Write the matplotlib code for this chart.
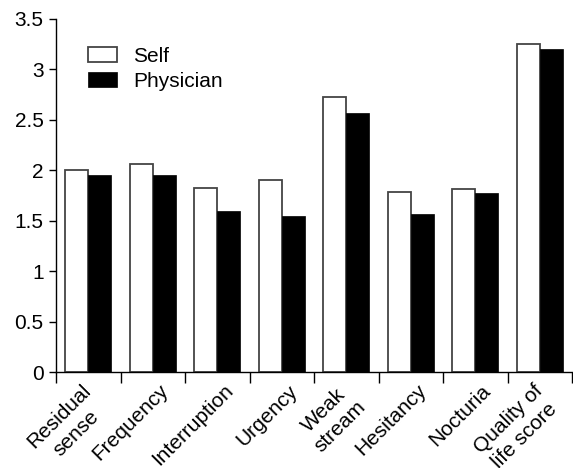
import matplotlib
matplotlib.use("Agg")
import matplotlib.pyplot as plt
import numpy as np

categories = ["Residual\nsense", "Frequency", "Interruption", "Urgency", "Weak\nstream",
              "Hesitancy", "Nocturia", "Quality of\nlife score"]
self_vals = [2.00, 2.06, 1.82, 1.90, 2.73, 1.78, 1.81, 3.25]
phys_vals = [1.95, 1.95, 1.60, 1.55, 2.57, 1.57, 1.77, 3.20]
yticks = [0, 0.5, 1, 1.5, 2, 2.5, 3, 3.5]
ytick_labels = ["0", "0.5", "1", "1.5", "2", "2.5", "3", "3.5"]

plt.rcParams['font.family'] = ['Liberation Sans', 'DejaVu Sans']
fig = plt.figure(figsize=(5.73, 4.68), dpi=100)
ax = fig.add_axes([56/573, 1-372/468, 516/573, (372-19)/468])

x = np.arange(len(categories))
w = 0.355
ax.bar(x - w/2, self_vals, w, color="white", edgecolor="#444444", linewidth=1.3, label="Self")
ax.bar(x + w/2, phys_vals, w, color="black", edgecolor="black", linewidth=0.5, label="Physician")

ax.set_xlim(-0.5, len(categories) - 0.5)
ax.set_ylim(0, 3.5)
ax.set_yticks(yticks)
ax.set_yticklabels(ytick_labels, fontsize=15)
ax.set_xticks([])
ax.set_xticks(np.arange(-0.5, len(categories)), minor=True)
ax.tick_params(axis="x", which="minor", length=8, width=1, direction="out", labelbottom=False)
ax.tick_params(axis="y", length=5, width=1, direction="out", pad=4)

# category labels, rotated 45 degrees
for xi, lab in zip(x, categories):
    nlines = lab.count("\n") + 1
    dx_px = 6 - 13 * (nlines - 1)
    ax.annotate(lab, xy=(xi, 0), xycoords=("data", "axes fraction"),
                xytext=(dx_px * 0.72, -9 * 0.72), textcoords="offset points",
                rotation=45, ha="right", va="top", rotation_mode="anchor",
                multialignment="center", linespacing=1.3, fontsize=15,
                annotation_clip=False)

for s in ["top", "right"]:
    ax.spines[s].set_visible(False)
for s in ["left", "bottom"]:
    ax.spines[s].set_linewidth(1)

leg = ax.legend(loc="upper left", bbox_to_anchor=((88-56)/516, 0.922), frameon=False, fontsize=15,
                handlelength=1.4, handleheight=0.72, handletextpad=0.75, labelspacing=0.3,
                borderpad=0, borderaxespad=0)

fig.savefig("out.png", dpi=100)
